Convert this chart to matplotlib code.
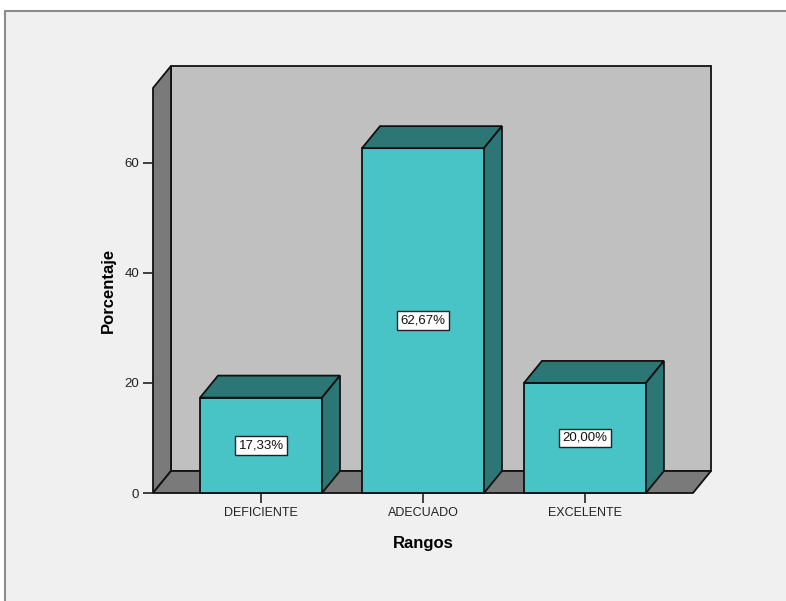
import matplotlib
matplotlib.use("Agg")
import matplotlib.pyplot as plt
from matplotlib.patches import Polygon, Rectangle

categories = ["DEFICIENTE", "ADECUADO", "EXCELENTE"]
values = [17.33, 62.67, 20.00]
yticks = [0, 20, 40, 60]

plt.rcParams['font.family'] = ['Liberation Sans', 'DejaVu Sans']

W, H = 786, 601
fig = plt.figure(figsize=(W / 100, H / 100), dpi=100, facecolor="white")

# outer frame
fig.patches.append(Rectangle((5 / W, -0.01), 1.0, (H - 11) / H + 0.01, transform=fig.transFigure,
                             facecolor="#F0F0F0", edgecolor="#8C8C8C", linewidth=1.5, zorder=-5))

ax = fig.add_axes([153 / W, 108 / H, 540 / W, 405 / H])
ax.set_zorder(2)
ax.set_facecolor("none")
xl, xr = -0.667, 2.667
ymax = 73.6
ax.set_xlim(xl, xr)
ax.set_ylim(0, ymax)
for s in ax.spines.values():
    s.set_visible(False)

dx, dy = 0.111, 4.0
wall_c = "#C0C0C0"
dark_c = "#7A7A7A"
front_c = "#48C3C6"
side_c = "#2D7676"
ec = "#111111"
lw = 1.3

# back wall
ax.add_patch(Polygon([(xl + dx, dy), (xr + dx, dy), (xr + dx, ymax + dy), (xl + dx, ymax + dy)],
                     closed=True, facecolor=wall_c, edgecolor=ec, lw=lw, clip_on=False, zorder=1))
# left wall
ax.add_patch(Polygon([(xl, 0), (xl + dx, dy), (xl + dx, ymax + dy), (xl, ymax)],
                     closed=True, facecolor=dark_c, edgecolor=ec, lw=lw, clip_on=False, zorder=1))
# floor
ax.add_patch(Polygon([(xl, 0), (xr, 0), (xr + dx, dy), (xl + dx, dy)],
                     closed=True, facecolor=dark_c, edgecolor=ec, lw=lw, clip_on=False, zorder=1))

bw = 0.753
x = list(range(len(categories)))
bars = ax.bar(x, values, width=bw, color=front_c, edgecolor=ec, linewidth=lw, zorder=3, clip_on=False)
for xi, v in zip(x, values):
    a, b = xi - bw / 2, xi + bw / 2
    ax.add_patch(Polygon([(a, v), (b, v), (b + dx, v + dy), (a + dx, v + dy)], closed=True,
                         facecolor=side_c, edgecolor=ec, lw=lw, clip_on=False, zorder=3))
    ax.add_patch(Polygon([(b, 0), (b + dx, dy), (b + dx, v + dy), (b, v)], closed=True,
                         facecolor=side_c, edgecolor=ec, lw=lw, clip_on=False, zorder=3))
    ax.text(xi, v / 2, f"{v:.2f}%".replace(".", ","), ha="center", va="center", fontsize=9.5,
            color="#111111", zorder=5,
            bbox=dict(boxstyle="square,pad=0.25", facecolor="white", edgecolor="#222222", linewidth=1))

ax.set_xticks(x)
ax.set_xticklabels(categories, fontsize=9)
ax.set_yticks(yticks)
ax.set_yticklabels([str(t) for t in yticks], fontsize=9.5)
ax.tick_params(axis="both", direction="out", length=7, width=1.2, color="#222222", labelcolor="#222222", pad=3)
ax.set_xlabel("Rangos", fontsize=12, fontweight="bold", labelpad=12)
ax.set_ylabel("Porcentaje", fontsize=12, fontweight="bold", labelpad=6)

fig.savefig("out.png", dpi=100, facecolor="white")
